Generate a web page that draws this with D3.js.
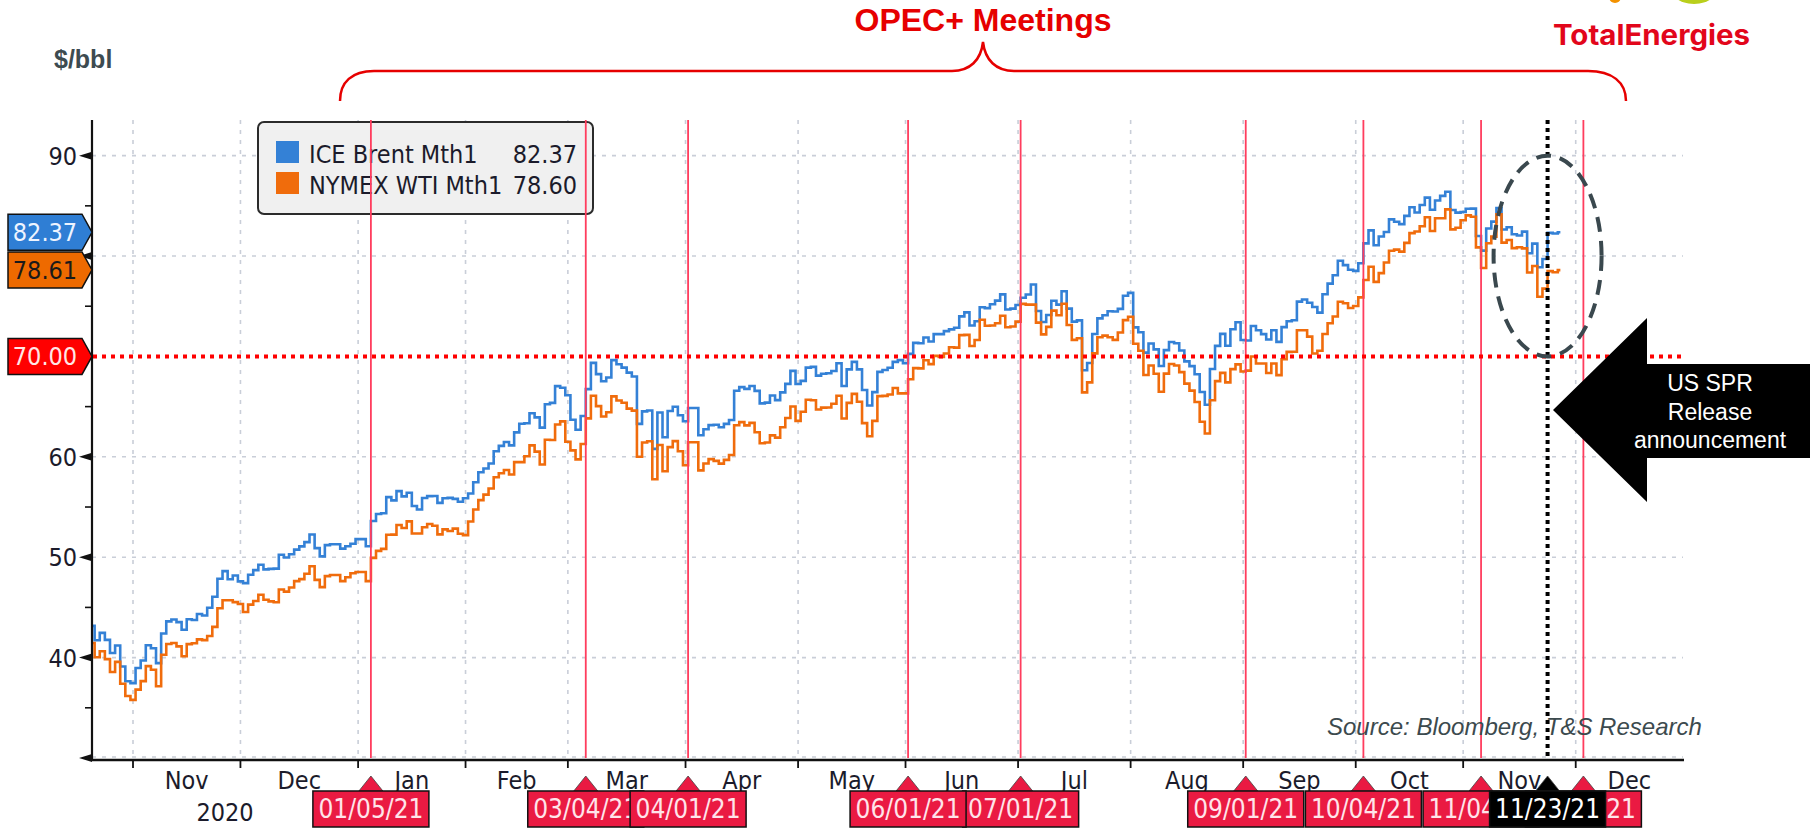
<!DOCTYPE html>
<html>
<head>
<meta charset="utf-8">
<script src="https://cdnjs.cloudflare.com/ajax/libs/d3/7.8.5/d3.min.js"></script>
<style>
  body { margin: 0; background: #fff; }
  svg { display: block; }
  .bb { font-family: "DejaVu Sans Condensed", "DejaVu Sans", sans-serif; }
  .ar { font-family: "Liberation Sans", Arial, sans-serif; }
</style>
</head>
<body>
<svg id="chart" width="1810" height="828"></svg>
<script>
// ---- data (daily closes, one value per weekday from 20 Oct 2020) ----
var firstDay = "2020-10-20";
var seriesNames = ["ICE Brent Mth1", "NYMEX WTI Mth1"];
var seriesColors = ["#3481d6", "#f06c0c"];
var legendValues = ["82.37", "78.60"];
var tagValues = ["82.37", "78.61"];
var refLevel = 70;

var brentClose = [
  43.16, 41.73, 42.46, 41.77, 40.46, 41.20, 39.12, 37.65, 37.46,                       // Oct 20
  38.97, 39.71, 41.23, 40.93, 39.45, 42.40, 43.61, 43.80, 43.53, 42.78, 43.82,          // Nov 20
  43.75, 44.34, 44.20, 44.96, 46.06, 47.86, 48.61, 47.80, 48.18, 47.59,
  47.42, 48.25, 48.71, 49.25, 48.79, 48.84, 48.86, 50.25, 49.97, 50.29, 50.76, 51.08,  // Dec 20
  51.50, 52.26, 50.91, 50.08, 51.20, 51.29, 51.29, 50.86, 51.09, 51.34, 51.80,
  51.80, 51.09, 53.60, 54.30, 54.38, 55.99, 55.66, 56.58, 56.06, 56.42, 55.10,         // Jan 21
  54.75, 55.90, 56.08, 56.10, 55.41, 55.88, 55.91, 55.81, 55.53, 55.88,
  56.35, 57.46, 58.46, 58.84, 59.34, 60.56, 61.09, 61.47, 61.14, 62.43,                // Feb 21
  63.30, 63.35, 64.34, 63.93, 62.91, 65.24, 65.37, 67.04, 66.88, 66.13,
  63.69, 62.70, 64.07, 66.74, 69.36, 68.24, 67.52, 67.90, 69.63, 69.22, 68.88, 68.39,  // Mar 21
  68.00, 63.28, 64.53, 64.62, 60.79, 64.41, 61.95, 64.57, 64.98, 64.14, 63.54,
  64.86, 64.86, 62.15, 62.74, 63.16, 63.20, 62.95, 63.28, 63.67, 66.58, 66.94,         // Apr 21
  66.77, 67.05, 66.57, 65.32, 65.40, 66.11, 65.65, 66.42, 67.27, 68.56, 67.25,
  67.56, 68.88, 68.96, 68.09, 68.28, 68.32, 68.55, 69.32, 67.05, 68.71, 69.46,         // May 21
  68.71, 66.66, 65.11, 66.44, 68.46, 68.65, 68.87, 69.46, 69.63, 69.32,
  70.25, 71.35, 71.31, 71.89, 71.49, 72.22, 72.22, 72.52, 72.69, 72.86, 73.99,         // Jun 21
  74.39, 73.08, 73.51, 74.90, 74.81, 75.19, 75.56, 76.18, 74.68, 74.76, 75.13,
  75.84, 76.17, 77.16, 74.53, 73.43, 74.12, 75.55, 75.16, 76.49, 74.76, 73.47,         // Jul 21
  73.59, 68.62, 69.35, 72.23, 73.79, 74.10, 74.50, 74.48, 74.74, 76.05, 76.33,
  72.89, 72.41, 70.38, 71.29, 70.70, 69.04, 70.63, 71.44, 71.31, 70.59, 69.51,         // Aug 21
  69.03, 68.23, 66.45, 65.18, 68.75, 71.05, 72.25, 71.07, 72.70, 73.41, 71.63,
  71.59, 73.03, 72.61, 72.22, 71.69, 72.60, 71.45, 72.92, 73.51, 73.60, 75.46,         // Sep 21
  75.67, 75.34, 74.92, 74.36, 76.19, 77.25, 78.09, 79.53, 79.09, 78.64, 78.52,
  79.28, 81.26, 82.56, 81.08, 81.95, 82.39, 83.65, 83.42, 83.18, 84.00, 84.86,         // Oct 21
  84.33, 85.08, 85.82, 84.61, 85.53, 85.99, 86.40, 84.58, 84.32, 84.38,
  84.71, 84.72, 81.99, 80.54, 82.74, 83.43, 84.78, 82.64, 82.87, 82.17,                // Nov 21
  82.05, 82.43, 80.28, 81.24, 78.89, 79.70, 82.31, 82.25, 82.37
];

var wtiClose = [
  41.46, 40.03, 40.64, 39.85, 38.56, 39.57, 37.39, 36.17, 35.79,                       // Oct 20
  36.81, 37.66, 39.15, 38.79, 37.14, 40.29, 41.36, 41.45, 41.12, 40.13, 41.34,          // Nov 20
  41.43, 41.82, 41.74, 42.15, 43.06, 44.91, 45.71, 45.71, 45.53, 45.34,
  44.55, 45.28, 45.64, 46.26, 45.76, 45.60, 45.52, 46.78, 46.57, 46.99, 47.62, 47.82,  // Dec 20
  48.36, 49.10, 47.74, 47.02, 48.12, 48.23, 48.23, 47.62, 48.00, 48.40, 48.52,
  48.52, 47.62, 49.93, 50.63, 50.83, 52.24, 52.25, 53.21, 52.91, 53.57, 52.36,         // Jan 21
  52.36, 52.98, 53.31, 53.13, 52.27, 52.77, 52.61, 52.85, 52.34, 52.20,
  53.55, 54.76, 55.69, 56.23, 56.85, 57.97, 58.36, 58.68, 58.24, 59.47,                // Feb 21
  59.47, 60.05, 61.14, 60.52, 59.24, 61.70, 61.67, 63.22, 63.53, 61.50,
  60.64, 59.75, 61.28, 63.83, 66.09, 65.05, 64.01, 64.44, 66.02, 65.61, 65.39, 64.80,  // Mar 21
  64.60, 60.00, 61.42, 61.55, 57.76, 61.18, 58.56, 60.97, 61.56, 60.55, 59.16,
  61.45, 61.45, 58.65, 59.33, 59.77, 59.60, 59.32, 59.70, 60.18, 63.15, 63.46,         // Apr 21
  63.13, 63.38, 62.44, 61.35, 61.43, 62.14, 61.91, 62.94, 63.86, 65.01, 63.58,
  64.49, 65.69, 65.63, 64.71, 64.90, 64.92, 65.28, 66.08, 63.82, 65.37, 66.27,         // May 21
  65.49, 63.36, 62.05, 63.58, 66.05, 66.07, 66.21, 66.85, 66.32, 66.32,
  67.72, 68.83, 68.81, 69.62, 69.23, 70.05, 69.96, 70.29, 70.91, 70.88, 72.12,         // Jun 21
  72.15, 71.04, 71.64, 73.66, 73.06, 73.08, 73.30, 74.05, 72.91, 72.98, 73.47,
  75.23, 75.16, 75.16, 73.37, 72.20, 72.94, 74.56, 74.10, 75.25, 73.13, 71.65,         // Jul 21
  71.81, 66.42, 67.42, 70.30, 71.91, 72.07, 71.91, 71.65, 72.39, 73.62, 73.95,
  71.26, 70.56, 68.15, 69.09, 68.28, 66.48, 68.29, 69.25, 69.09, 68.44, 67.29,         // Aug 21
  66.59, 65.46, 63.50, 62.32, 65.64, 67.54, 68.36, 67.42, 68.74, 69.21, 68.50,
  68.59, 69.99, 69.29, 69.29, 68.35, 69.30, 68.14, 69.72, 70.45, 70.46, 72.61,         // Sep 21
  72.61, 71.97, 70.29, 70.56, 72.23, 73.30, 73.98, 75.45, 75.29, 74.83, 75.03,
  75.88, 77.62, 78.93, 77.43, 78.30, 79.35, 80.52, 80.64, 80.44, 81.31, 82.28,         // Oct 21
  82.44, 82.96, 83.87, 82.50, 83.76, 83.76, 84.65, 82.66, 82.81, 83.57,
  84.05, 83.91, 80.86, 78.81, 81.27, 81.93, 84.15, 81.34, 81.59, 80.79,                // Nov 21
  80.88, 80.76, 78.36, 79.01, 75.94, 76.75, 78.50, 78.39, 78.60
];

// OPEC+ meetings, in the order the date flags are stacked
var opecDates = ["2021-01-05", "2021-03-04", "2021-04-01", "2021-07-01", "2021-06-01",
                 "2021-09-01", "2021-10-04", "2021-11-04", "2021-12-02"];
var sprDate = "2021-11-23";
var yearLabels = ["2020"];          // the 2021 label sits under the date flags
var yMajor = [30, 40, 50, 60, 70, 80, 90];
var yMinor = [35, 45, 55, 65, 75, 85];
var yLabels = [40, 50, 60, 90];     // 70 / 80 are covered by the value tags
var arrowLines = ["US SPR", "Release", "announcement"];

// ---- setup ----
var svg = d3.select("#chart");
var plot = {left: 92, right: 1683, top: 120, bottom: 758};

var parseDay = d3.timeParse("%Y-%m-%d");
var fmtMon = d3.timeFormat("%b");
var fmtFlag = d3.timeFormat("%m/%d/%y");

// bloomberg axis = every weekday
var days = d3.timeDay.range(parseDay(firstDay), parseDay("2022-01-01"))
  .filter(function(d) { return d.getDay() % 6 !== 0; });
var bisectDay = d3.bisector(function(d) { return d; }).left;
function idxOf(s) { return bisectDay(days, parseDay(s)); }

var x = d3.scaleLinear().domain([0.985, 311.97]).range([plot.left, plot.right]);
var y = d3.scaleLinear().domain([30, 93.55]).range([plot.bottom, plot.top]);

var monthStarts = d3.timeMonth.range(parseDay("2020-11-01"), parseDay("2022-01-01"))
  .map(function(m) { return {m: m, i: bisectDay(days, m)}; });

// ---- gridlines ----
var grid = svg.append("g").attr("stroke", "#c9ced8").attr("stroke-width", 1.6).attr("stroke-dasharray", "4,6");
grid.selectAll(".hg").data([40, 50, 60, 80, 90]).enter().append("line")
  .attr("x1", plot.left).attr("x2", plot.right)
  .attr("y1", function(d) { return y(d); }).attr("y2", function(d) { return y(d); });
grid.append("line").attr("x1", plot.left).attr("x2", plot.right).attr("y1", y(30) - 1).attr("y2", y(30) - 1);
grid.selectAll(".vg").data(monthStarts).enter().append("line")
  .attr("x1", function(d) { return x(d.i); }).attr("x2", function(d) { return x(d.i); })
  .attr("y1", plot.top).attr("y2", plot.bottom);

// ---- price lines ----
var defs = svg.append("defs");
defs.append("clipPath").attr("id", "clip").append("rect")
  .attr("x", plot.left).attr("y", plot.top).attr("width", plot.right - plot.left).attr("height", plot.bottom - plot.top);

function stepPoints(vals) {
  var pts = [[0, vals[0]]];
  vals.forEach(function(v, i) { pts.push([i + 0.5, v]); });
  pts.push([vals.length, vals[vals.length - 1]]);
  return pts;
}
var line = d3.line().curve(d3.curveStepAfter)
  .x(function(d) { return x(d[0]); })
  .y(function(d) { return y(d[1]); });

var lines = svg.append("g").attr("clip-path", "url(#clip)");
[brentClose, wtiClose].forEach(function(vals, k) {
  lines.append("path")
    .attr("d", line(stepPoints(vals)))
    .attr("fill", "none")
    .attr("stroke", seriesColors[k])
    .attr("stroke-width", 2.6);
});

// ---- legend ----
var lg = svg.append("g");
lg.append("rect").attr("x", 258).attr("y", 122).attr("width", 335).attr("height", 92).attr("rx", 6)
  .attr("fill", "#f0f0f0").attr("stroke", "#2b2b2b").attr("stroke-width", 2);
seriesNames.forEach(function(n, k) {
  var by = 163 + k * 31;
  lg.append("rect").attr("x", 276).attr("y", by - 22).attr("width", 23).attr("height", 22).attr("fill", seriesColors[k]);
  lg.append("text").attr("class", "bb").attr("x", 309).attr("y", by).attr("font-size", 25).attr("fill", "#1b1b2b").text(n);
  lg.append("text").attr("class", "bb").attr("x", 577).attr("y", by).attr("font-size", 25).attr("fill", "#1b1b2b")
    .attr("text-anchor", "end").text(legendValues[k]);
});

// ---- OPEC+ meeting lines ----
svg.append("g").selectAll("line").data(opecDates).enter().append("line")
  .attr("x1", function(d) { return x(idxOf(d) + 0.5); })
  .attr("x2", function(d) { return x(idxOf(d) + 0.5); })
  .attr("y1", plot.top).attr("y2", plot.bottom)
  .attr("stroke", "#ff3d5e").attr("stroke-width", 1.8);

// SPR announcement day
var sprX = x(idxOf(sprDate) + 0.5);
svg.append("line").attr("x1", sprX).attr("x2", sprX).attr("y1", plot.top).attr("y2", plot.bottom + 2)
  .attr("stroke", "#000").attr("stroke-width", 4).attr("stroke-dasharray", "4,4");

// $70 line
svg.append("line").attr("x1", plot.left + 1).attr("x2", plot.right).attr("y1", y(refLevel)).attr("y2", y(refLevel))
  .attr("stroke", "#ff0000").attr("stroke-width", 4).attr("stroke-dasharray", "4,5");

// ---- axes ----
var ax = svg.append("g").attr("fill", "#111").attr("stroke", "#111");
ax.append("line").attr("x1", plot.left).attr("x2", plot.left).attr("y1", plot.top).attr("y2", plot.bottom + 2).attr("stroke-width", 2.2);
ax.append("line").attr("x1", plot.left).attr("x2", plot.right + 1).attr("y1", plot.bottom + 2).attr("y2", plot.bottom + 2).attr("stroke-width", 2.6);

ax.selectAll(".maj").data(yMajor).enter().append("path")
  .attr("stroke", "none")
  .attr("d", function(d) { var yy = y(d); return "M" + (plot.left - 13) + "," + yy + "L" + plot.left + "," + (yy - 4) + "L" + plot.left + "," + (yy + 4) + "Z"; });
ax.selectAll(".min").data(yMinor).enter().append("line")
  .attr("x1", plot.left - 7).attr("x2", plot.left)
  .attr("y1", function(d) { return y(d); }).attr("y2", function(d) { return y(d); })
  .attr("stroke-width", 1.6);
svg.append("g").selectAll("text").data(yLabels).enter().append("text")
  .attr("class", "bb").attr("x", 77).attr("y", function(d) { return y(d) + 9; })
  .attr("text-anchor", "end").attr("font-size", 25).attr("fill", "#1b1b2b")
  .text(function(d) { return d; });

ax.selectAll(".xt").data(monthStarts).enter().append("line")
  .attr("x1", function(d) { return x(d.i); }).attr("x2", function(d) { return x(d.i); })
  .attr("y1", plot.bottom + 2).attr("y2", plot.bottom + 10).attr("stroke-width", 1.8);

var monthText = svg.append("g");
monthStarts.forEach(function(d, k) {
  var x1 = x(d.i);
  var x2 = k < monthStarts.length - 1 ? x(monthStarts[k + 1].i) : plot.right;
  monthText.append("text").attr("class", "bb")
    .attr("x", (x1 + x2) / 2).attr("y", 789)
    .attr("text-anchor", "middle").attr("font-size", 25).attr("fill", "#1b1b2b")
    .text(fmtMon(d.m));
});
var janX = x(idxOf("2021-01-01"));
monthText.selectAll(".yr").data(yearLabels).enter().append("text").attr("class", "bb")
  .attr("x", (plot.left + janX) / 2)
  .attr("y", 821).attr("text-anchor", "middle").attr("font-size", 25).attr("fill", "#1b1b2b")
  .text(function(d) { return d; });

// ---- date flags under the axis ----
var flagW = 116;
var flags = opecDates.map(function(d) { return {d: d, fill: "#ea1a42", txt: "#ffe4ea"}; });
flags.push({d: sprDate, fill: "#000", txt: "#fff"});
flags.forEach(function(f) { f.cx = x(idxOf(f.d) + 0.5); });
// part of each flag that is not hidden by a flag drawn later
flags.forEach(function(f, k) {
  var lo = f.cx - flagW / 2, hi = f.cx + flagW / 2;
  flags.slice(k + 1).forEach(function(g) {
    var gl = g.cx - flagW / 2, gr = g.cx + flagW / 2;
    if (gl < hi && gr > lo) {
      if (g.cx > f.cx) hi = Math.min(hi, gl); else lo = Math.max(lo, gr);
    }
  });
  defs.append("clipPath").attr("id", "flagclip" + k).append("rect")
    .attr("x", lo).attr("y", 791).attr("width", Math.max(0, hi - lo)).attr("height", 40);
});
var fl = svg.append("g").selectAll("g").data(flags).enter().append("g");
fl.append("path").attr("d", function(f) { return "M" + f.cx + ",776L" + (f.cx + 12) + ",791L" + (f.cx - 12) + ",791Z"; })
  .attr("fill", function(f) { return f.fill; }).attr("stroke", "#444").attr("stroke-width", 0.8);
fl.append("rect").attr("x", function(f) { return f.cx - flagW / 2; }).attr("y", 791).attr("width", flagW).attr("height", 36)
  .attr("fill", function(f) { return f.fill; }).attr("stroke", "#111").attr("stroke-width", 1.5);
fl.append("text").attr("class", "bb").attr("x", function(f) { return f.cx; }).attr("y", 818).attr("text-anchor", "middle")
  .attr("clip-path", function(f, k) { return "url(#flagclip" + k + ")"; })
  .attr("font-size", 26).attr("fill", function(f) { return f.txt; })
  .text(function(f) { return fmtFlag(parseDay(f.d)); });

// ---- value tags on the left ----
var tags = [
  {v: +tagValues[0], label: tagValues[0], fill: "#2f7ed4", txt: "#eef4ff"},
  {v: +tagValues[1], label: tagValues[1], fill: "#ee6a00", txt: "#1a1a1a"},
  {v: refLevel, label: refLevel.toFixed(2), fill: "#ff0000", txt: "#ffe6e6"}
];
var tg = svg.append("g").selectAll("g").data(tags).enter().append("g");
tg.append("path")
  .attr("d", function(t) { var c = y(t.v); return "M8," + (c - 18) + "H82L92," + c + "L82," + (c + 18) + "H8Z"; })
  .attr("fill", function(t) { return t.fill; }).attr("stroke", "#111").attr("stroke-width", 1.5);
tg.append("text").attr("class", "bb").attr("x", 45).attr("y", function(t) { return y(t.v) + 9; })
  .attr("text-anchor", "middle").attr("font-size", 25).attr("fill", function(t) { return t.txt; })
  .text(function(t) { return t.label; });

// ---- annotations ----
svg.append("ellipse").attr("cx", sprX).attr("cy", y(80)).attr("rx", 54).attr("ry", y(70) - y(80))
  .attr("fill", "none").attr("stroke", "#3a484e").attr("stroke-width", 4).attr("stroke-dasharray", "15,9");

svg.append("path").attr("d", "M1553,410L1647,318V364H1810V458H1647V502Z").attr("fill", "#000");
svg.append("g").selectAll("text").data(arrowLines).enter().append("text").attr("class", "ar")
  .attr("x", 1710).attr("y", function(d, k) { return 391 + k * 28.5; })
  .attr("text-anchor", "middle").attr("font-size", 23).attr("fill", "#fff")
  .text(function(d) { return d; });

svg.append("text").attr("class", "ar").attr("x", 1327).attr("y", 735)
  .attr("font-size", 24).attr("font-style", "italic").attr("fill", "#3c4a4e")
  .text("Source: Bloomberg, T&S Research");

svg.append("text").attr("class", "ar").attr("x", 54).attr("y", 68)
  .attr("font-size", 25).attr("font-weight", "bold").attr("fill", "#3d4b50").text("$/bbl");

svg.append("path")
  .attr("d", "M340,101C340,82 352,71 374,71L952,71C970,71 981,60 983,42C985,60 996,71 1014,71L1588,71C1612,71 1626,82 1626,101")
  .attr("fill", "none").attr("stroke", "#e60000").attr("stroke-width", 2.5);
svg.append("text").attr("class", "ar").attr("x", 983).attr("y", 31).attr("text-anchor", "middle")
  .attr("font-size", 32).attr("font-weight", "bold").attr("fill", "#e60000").text("OPEC+ Meetings");

// TotalEnergies logo (bottom of the roundel is cut off by the frame)
svg.append("ellipse").attr("cx", 1694).attr("cy", -20).attr("rx", 28).attr("ry", 24).attr("fill", "#b9cf1c");
svg.append("ellipse").attr("cx", 1615).attr("cy", -3).attr("rx", 6).attr("ry", 6).attr("fill", "#f39200");
svg.append("text").attr("x", 1553).attr("y", 45)
  .attr("font-family", "Inter, 'Noto Sans', sans-serif").attr("font-weight", "bold").attr("font-size", 28)
  .attr("textLength", 197).attr("lengthAdjust", "spacingAndGlyphs")
  .attr("fill", "#e2061b").text("TotalEnergies");
</script>
</body>
</html>
